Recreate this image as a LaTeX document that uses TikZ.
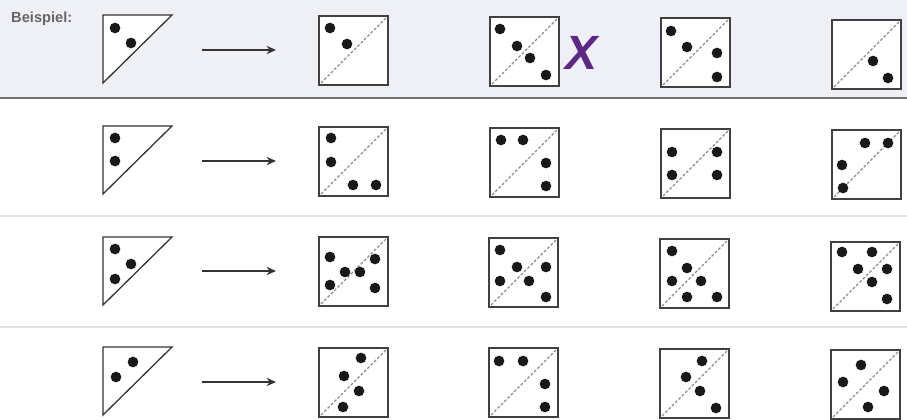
\documentclass[tikz,border=0pt]{standalone}
\usepackage{fontspec}
\setmainfont{Liberation Sans}
\usetikzlibrary{arrows.meta}

\definecolor{exbg}{HTML}{EEF0F5}
\definecolor{xlila}{RGB}{92,40,132}

% one die: name, left, top, pips (local coordinates)
\newcommand{\wuerfel}[4]{%
  \begin{scope}[shift={(#2,#3)}]
    \draw[dicebox] (0,0) rectangle (69,69);
    \draw[diag] (2,67) -- (67,2);
    \foreach \px/\py in {#4} \fill[pip] (\px,\py) circle (0.16cm);
    \coordinate (#1) at (34.5,34.5);
  \end{scope}}

% one half die (triangle): name, left, top, pips
\newcommand{\keil}[4]{%
  \begin{scope}[shift={(#2,#3)}]
    \draw[tribox] (0,0) -- (69,0) -- (0,68) -- cycle;
    \foreach \px/\py in {#4} \fill[pip] (\px,\py) circle (0.16cm);
    \coordinate (#1) at (23,23);
  \end{scope}}

\begin{document}
\begin{tikzpicture}[
    x=0.03cm, y=-0.03cm,
    dicebox/.style={draw=black!75, fill=white, line width=1.4pt},
    tribox/.style={draw=black!80, fill=white, line width=1.1pt},
    diag/.style={draw=black!45, line width=1.1pt, dash pattern=on 2.4pt off 1.6pt},
    pip/.style={fill=black!90},
    arr/.style={-{Stealth[length=8pt, width=7pt]}, line width=1.5pt, black!80},
    lbl/.style={font=\bfseries\fontsize{12.5}{14}\selectfont, text=black!60, inner sep=0pt},
    xmark/.style={font=\bfseries\itshape\fontsize{41}{41}\selectfont, text=xlila, inner sep=0pt},
    trenn/.style={draw=black!12, line width=1pt},
  ]
    \useasboundingbox (0,0) rectangle (907,419);

    % Example row
    \fill[exbg] (0,0) rectangle (907,97);
    \draw[line width=1.8pt, black!55] (0,98) -- (907,98);
    \draw[trenn] (0,216) -- (907,216);
    \draw[trenn] (0,327) -- (907,327);

    \node[lbl, anchor=base west] (bsp) at (11,23) {Beispiel:};

    % Row 1
    \keil{t1}{103}{15}{12/13, 28/28}
    \coordinate (p1s) at (202,50);
    \coordinate (p1e) at (276,50);
    \draw[arr] (p1s) -- (p1e);
    \wuerfel{a1}{319}{16}{11/12, 28/28}
    \wuerfel{b1}{490}{17}{10/12, 27/29, 40/41, 56/58}
    \wuerfel{c1}{661}{18}{10/13, 26/29, 56/35, 56/59}
    \wuerfel{d1}{832}{20}{41/41, 56/58}
    \node[xmark] (kreuz) at (582,53) {X};

    % Row 2
    \keil{t2}{103}{126}{12/12, 12/35}
    \coordinate (p2s) at (202,161);
    \coordinate (p2e) at (276,161);
    \draw[arr] (p2s) -- (p2e);
    \wuerfel{a2}{319}{127}{12/11, 12/35, 34/58, 57/58}
    \wuerfel{b2}{490}{128}{11/12, 33/12, 56/35, 56/58}
    \wuerfel{c2}{661}{129}{11/23, 11/46, 56/23, 56/46}
    \wuerfel{d2}{832}{130}{33/13, 56/13, 10/35, 11/58}

    % Row 3
    \keil{t3}{103}{237}{12/12, 28/27, 12/42}
    \coordinate (p3s) at (202,271);
    \coordinate (p3e) at (276,271);
    \draw[arr] (p3s) -- (p3e);
    \wuerfel{a3}{319}{237}{11/20, 26/35, 41/35, 56/22, 11/48, 56/51}
    \wuerfel{b3}{489}{238}{11/12, 28/29, 57/29, 11/43, 40/43, 57/59}
    \wuerfel{c3}{660}{239}{12/12, 27/29, 12/42, 41/42, 27/58, 57/58}
    \wuerfel{d3}{831}{242}{11/10, 41/10, 27/27, 56/27, 41/40, 56/57}

    % Row 4
    \keil{t4}{103}{347}{30/15, 13/30}
    \coordinate (p4s) at (202,382);
    \coordinate (p4e) at (276,382);
    \draw[arr] (p4s) -- (p4e);
    \wuerfel{a4}{319}{348}{42/10, 25/28, 40/43, 24/59}
    \wuerfel{b4}{489}{348}{10/13, 34/13, 56/36, 56/59}
    \wuerfel{c4}{660}{349}{42/12, 26/28, 40/42, 56/59}
    \wuerfel{d4}{831}{350}{30/15, 12/32, 53/41, 37/57}
\end{tikzpicture}
\end{document}
